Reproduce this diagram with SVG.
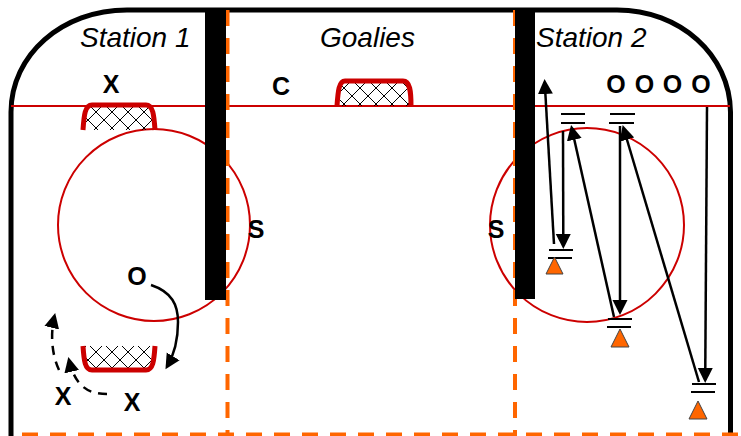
<svg xmlns="http://www.w3.org/2000/svg" width="741" height="436" viewBox="0 0 741 436">
<style>
.rink{fill:none;stroke:#000;stroke-width:5}
.redline{fill:none;stroke:#c00;stroke-width:2}
.zone{fill:none;stroke:#f60;stroke-width:4;stroke-dasharray:16 12}
.bar{fill:#000}
.net{fill:url(#mesh);stroke:none}
.frame{fill:none;stroke:#c00;stroke-width:5}
.title{font:italic 28px "Liberation Sans",Arial,sans-serif;fill:#000}
.mark{font:bold 25px "Liberation Sans",Arial,sans-serif;fill:#000;text-anchor:middle}
.move{fill:none;stroke:#000;stroke-width:2.5;marker-end:url(#head)}
.dash{stroke-dasharray:9 7}
.stop{stroke:#000;stroke-width:2;fill:none}
.cone{fill:#f60;stroke:#444;stroke-width:1}
</style>
<defs>
<pattern id="mesh" patternUnits="userSpaceOnUse" width="16" height="16">
<path d="M0 0L16 16M16 0L0 16" stroke="#000" stroke-width="1" fill="none" shape-rendering="crispEdges"/>
</pattern>
<marker id="head" markerUnits="userSpaceOnUse" markerWidth="16" markerHeight="16" viewBox="0 0 16 16" refX="12" refY="8" orient="auto">
<path d="M0 0.5L15 8L0 15.5Z" fill="#000"/>
</marker>
</defs>
<rect width="741" height="436" fill="#fff"/>
<g id="rink">
<path class="rink" d="M11 436V112C11 55 62 10 127 10H617C680 10 730 55 730.500 112V436"/>
<path class="redline" d="M11 106H730"/>
<circle class="redline" cx="154" cy="225" r="96"/>
<circle class="redline" cx="587" cy="225" r="97"/>
</g>
<g id="zones">
<path class="zone" d="M227.500 10V436"/>
<path class="zone" d="M515 10V436"/>
<path class="zone" d="M22 434.500H741"/>
</g>
<g id="divider-left"><rect class="bar" x="205" y="10" width="21" height="290"/></g>
<g id="divider-right"><rect class="bar" x="515" y="10" width="20" height="289"/></g>
<g id="net-top-left">
<path class="net" d="M84 130C85 118 86 106 92 106H146C152 106 153 118 154 130Z"/>
<path class="frame" d="M83 130C84 115 85 105 92 105H146C153 105 154 115 155 130"/>
</g>
<g id="net-center">
<path class="net" d="M337 106C338 94 339 82 345 82H403C409 82 410 94 410 106Z"/>
<path class="frame" d="M337 106C338 91 339 81 345 81H403C410 81 411 91 411 106"/>
</g>
<g id="net-bottom-left">
<path class="net" d="M84 346C85 358 86 369 92 369H146C152 369 153 358 154 346Z"/>
<path class="frame" d="M83 346C84 361 85 370 92 370H146C153 370 154 361 155 346"/>
</g>
<g id="labels">
<text class="title" x="80" y="47">Station 1</text>
<text class="title" x="320" y="47">Goalies</text>
<text class="title" x="536" y="47">Station 2</text>
</g>
<g id="player-x1"><text class="mark" x="111" y="93">X</text></g>
<g id="player-c"><text class="mark" x="281" y="95">C</text></g>
<g id="player-o1"><text class="mark" x="616" y="93">O</text></g>
<g id="player-o2"><text class="mark" x="644.500" y="93">O</text></g>
<g id="player-o3"><text class="mark" x="672.500" y="93">O</text></g>
<g id="player-o4"><text class="mark" x="701" y="93">O</text></g>
<g id="player-s1"><text class="mark" x="256" y="238">S</text></g>
<g id="player-s2"><text class="mark" x="496" y="238">S</text></g>
<g id="player-o5"><text class="mark" x="137" y="285">O</text></g>
<g id="player-x2"><text class="mark" x="63" y="405">X</text></g>
<g id="player-x3"><text class="mark" x="132" y="411">X</text></g>
<g id="stop-1">
<path class="stop" d="M561 114H585M561 123H585"/>
</g>
<g id="stop-2">
<path class="stop" d="M610 114H635M609 123H634"/>
</g>
<g id="stop-3">
<path class="stop" d="M549 250H573M548 258H572"/>
</g>
<g id="stop-4">
<path class="stop" d="M608 319H632M607 327H631"/>
</g>
<g id="stop-5">
<path class="stop" d="M692 384H716M691 392H715"/>
</g>
<g id="cone-1"><path class="cone" d="M554.500 257L563 274H546Z"/></g>
<g id="cone-2"><path class="cone" d="M620 329L629 347H611Z"/></g>
<g id="cone-3"><path class="cone" d="M698 401L707 419H689Z"/></g>
<g id="connectors">
<path class="move" d="M151 285C172 292 178 305 178 322C178 340 174 355 167 366.700"/>
<path class="move dash" d="M107 394C92 394 76 390 69 360"/>
<path class="move dash" d="M59 370C52 355 50 335 54.500 316"/>
<path class="move" d="M554 244L544.700 82"/>
<path class="move" d="M563 131L563.300 246"/>
<path class="move" d="M614 317L571.700 128"/>
<path class="move" d="M620 126V312"/>
<path class="move" d="M699 382L623.500 128"/>
<path class="move" d="M707 107L705.200 380"/>
</g>
</svg>
